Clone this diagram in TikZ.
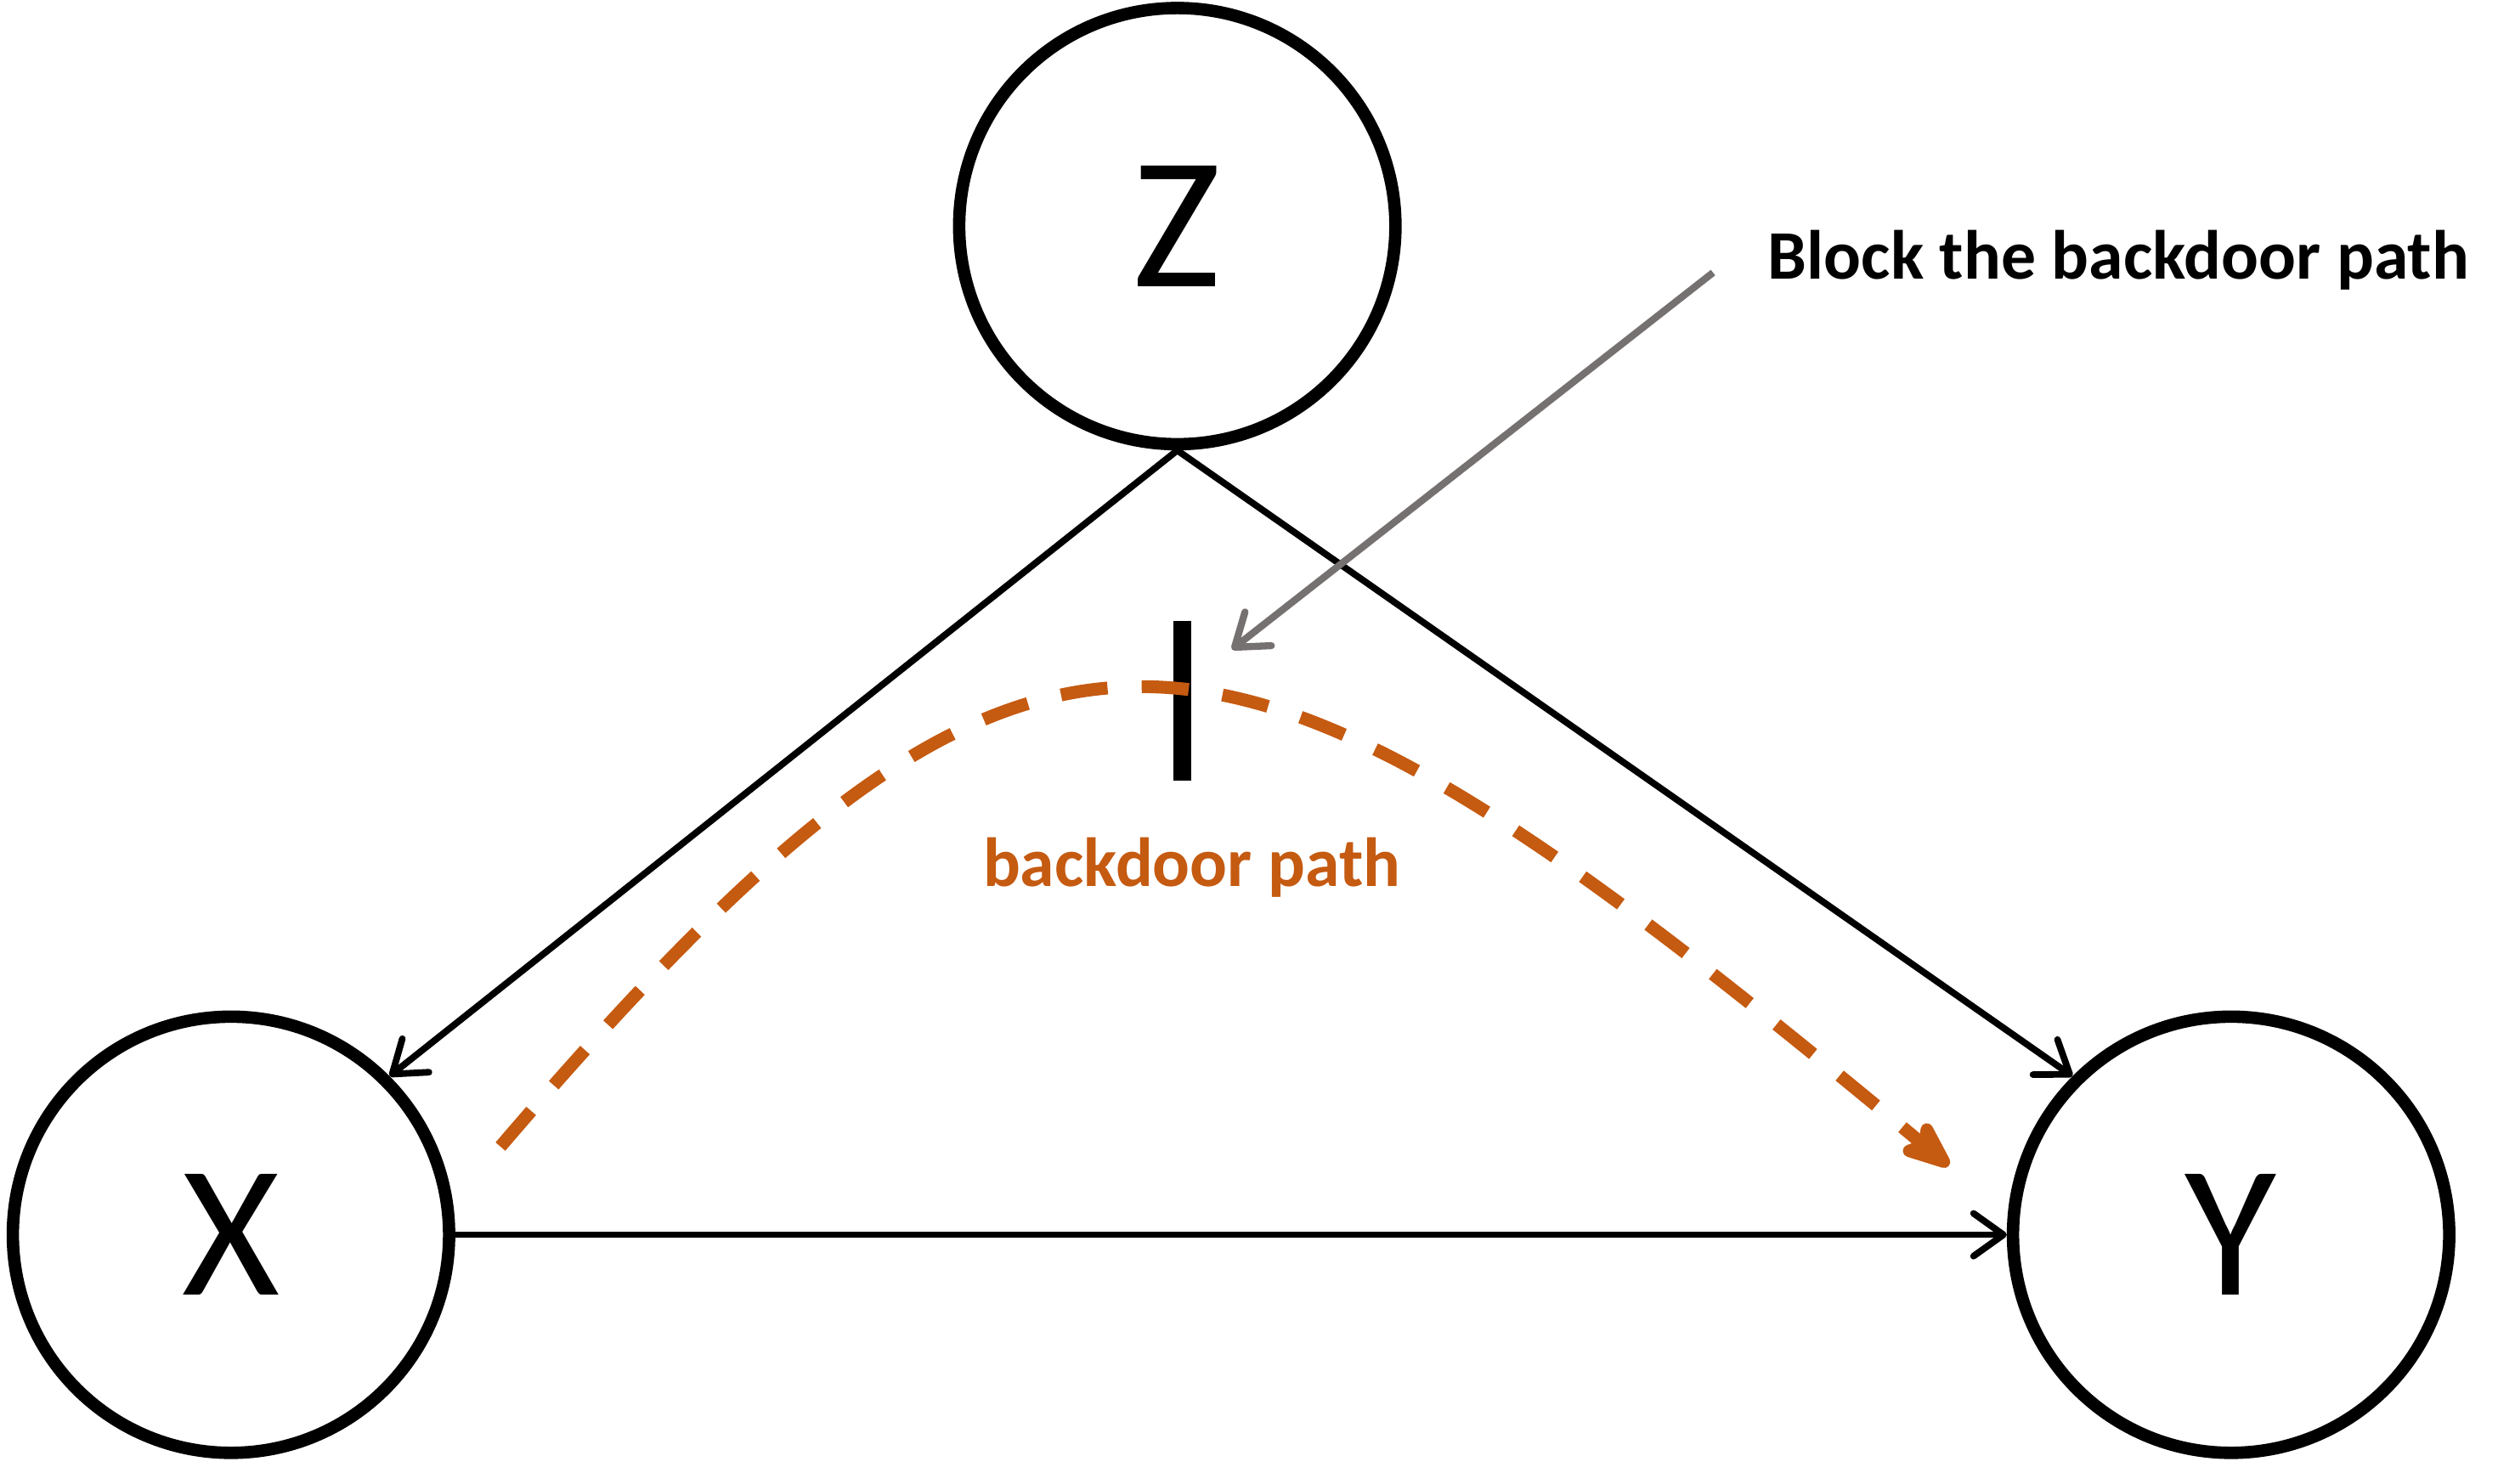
\documentclass[tikz,border=0pt]{standalone}
\usepackage{fontspec}
\setmainfont{Carlito}
\usetikzlibrary{arrows.meta}
\definecolor{pathorange}{RGB}{197,90,17}
\definecolor{notegray}{RGB}{118,113,113}

\begin{document}
\begin{tikzpicture}[x=0.75pt,y=0.75pt,yscale=-1,xscale=1,
        var/.style={draw, circle, line width=5.8pt, minimum size=204pt, inner sep=0pt, font=\fontsize{88}{88}\selectfont},
        edge/.style={line width=3.1pt, -{Straight Barb[length=14pt,width=20pt,round]}},
        note/.style={draw=notegray, line width=3.3pt, -{Straight Barb[length=14pt,width=20pt,round]}},
        backdoor/.style={draw=pathorange, line width=6pt, dash pattern=on 22pt off 16pt, -{Stealth[length=30pt,width=24pt,inset=7pt,round]}},
        bar/.style={fill=black, rectangle, minimum width=8.3pt, minimum height=75pt, inner sep=0pt},
        bdlabel/.style={text=pathorange, font=\bfseries\fontsize{32.5}{32.5}\selectfont, anchor=base, inner sep=0pt},
        notelabel/.style={font=\bfseries\fontsize{32.5}{32.5}\selectfont, anchor=base west, inner sep=0pt}]
        \useasboundingbox (0,0) rectangle (1568,925);

        %Shape: Circle Z
        \node[var] (Z) at (734,141) {Z};
        %Shape: Circle X
        \node[var] (X) at (144,770) {X};
        %Shape: Circle Y
        \node[var] (Y) at (1391,770) {Y};

        % Edges
        \draw[edge] (Z.south) -- (X.45);
        \draw[edge] (Z.south) -- (Y.135);
        \draw[edge] (X.east) -- (Y.west);

        % Block bar
        \node[bar] (block) at (737,437) {};

        % Backdoor path
        \coordinate (bdstart) at (312,715);
        \coordinate (bdend) at (1215,727);
        \draw[backdoor] (bdstart) .. controls (652,318) and (759,348) .. (bdend);

        % Text Node
        \node[bdlabel] (bdtext) at (743,553) {backdoor path};
        % Text Node
        \node[notelabel] (notetext) at (1102,174) {Block the backdoor path};

        % Note arrow
        \coordinate (notestart) at (1068,170);
        \coordinate (noteend) at (768,405);
        \draw[note] (notestart) -- (noteend);
\end{tikzpicture}
\end{document}
